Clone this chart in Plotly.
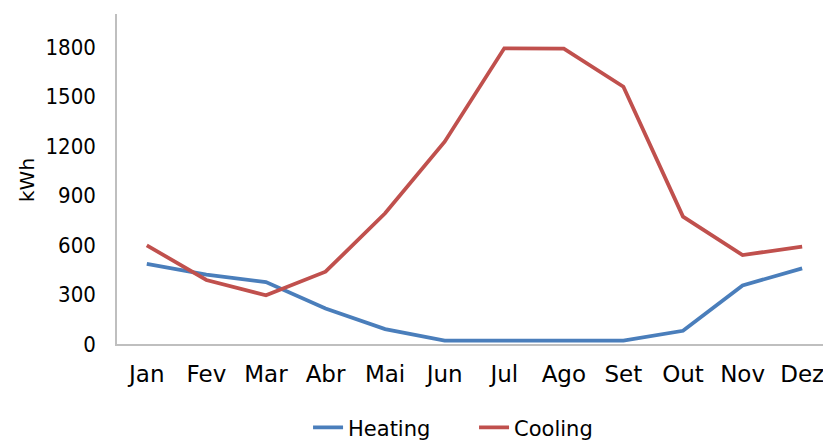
import plotly.graph_objects as go

months = ["Jan", "Fev", "Mar", "Abr", "Mai", "Jun", "Jul", "Ago", "Set", "Out", "Nov", "Dez"]
heating = [485, 420, 375, 215, 90, 20, 20, 20, 20, 80, 355, 458]
cooling = [598, 388, 295, 438, 792, 1226, 1792, 1790, 1559, 772, 539, 590]

FONT = "DejaVu Sans"
NARROW = "DejaVu Sans Condensed, DejaVu Sans"

fig = go.Figure()
fig.add_trace(go.Scatter(x=months, y=heating, name="Heating", mode="lines",
                         line=dict(color="#4A7EBB", width=3.8)))
fig.add_trace(go.Scatter(x=months, y=cooling, name="Cooling", mode="lines",
                         line=dict(color="#C0504D", width=3.8)))

fig.update_layout(
    width=823, height=441,
    margin=dict(l=117, r=0, t=14, b=97, autoexpand=False),
    paper_bgcolor="white", plot_bgcolor="white",
    font=dict(family=FONT, size=21, color="black"),
    showlegend=True,
    legend=dict(orientation="h", xref="container", x=0.576, xanchor="center",
                yref="container", y=0.03, yanchor="middle",
                font=dict(size=21), entrywidth=121, entrywidthmode="pixels"),
    xaxis=dict(range=[-0.5, 11.35], showline=True, linecolor="#BFBFBF", linewidth=1.5,
               showgrid=False, zeroline=False, ticks="", ticklabelstandoff=9,
               tickfont=dict(family=FONT, size=23), automargin=False),
    yaxis=dict(range=[0, 2000], tickvals=[0, 300, 600, 900, 1200, 1500, 1800],
               showline=True, linecolor="#BFBFBF", linewidth=1.5,
               showgrid=False, zeroline=False, ticks="", ticklabelstandoff=15,
               tickfont=dict(family=NARROW, size=22), automargin=False),
    annotations=[dict(text="kWh", textangle=-90, xref="paper", yref="paper",
                      x=-0.1275, y=0.497, xanchor="center", yanchor="middle",
                      showarrow=False, font=dict(family=FONT, size=20))],
)

fig.write_html("out.html")
